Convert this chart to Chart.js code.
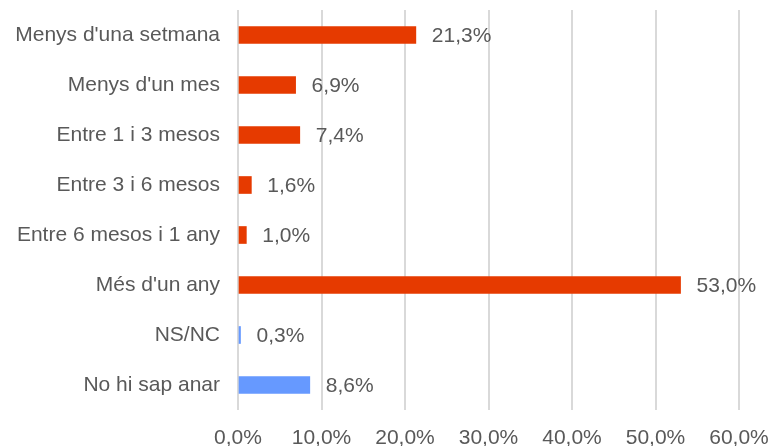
<!DOCTYPE html>
<html>
<head>
<meta charset="utf-8">
<script src="https://cdn.jsdelivr.net/npm/chart.js@4/dist/chart.umd.min.js"></script>
<style>
  html, body { margin: 0; padding: 0; background: #fff; }
  #wrap { width: 771px; height: 446px; }
</style>
</head>
<body>
<div id="wrap"><canvas id="myBarChart"></canvas></div>
<script>
// categories, values (percent) and bar colours
var labels = ["Menys d'una setmana", "Menys d'un mes", "Entre 1 i 3 mesos", "Entre 3 i 6 mesos",
              "Entre 6 mesos i 1 any", "Més d'un any", "NS/NC", "No hi sap anar"];
var values = [21.3, 6.9, 7.4, 1.6, 1.0, 53.0, 0.3, 8.6];
var colors = ["#E63A00", "#E63A00", "#E63A00", "#E63A00", "#E63A00", "#E63A00", "#6699FF", "#6699FF"];

var xTicks = [0, 10, 20, 30, 40, 50, 60];

function fmt(v) {
    return v.toFixed(1).replace('.', ',') + '%';
}

// draw value labels to the right of the bars
var valueLabels = {
    id: 'valueLabels',
    afterDatasetsDraw: function (chart) {
        var ctx = chart.ctx;
        var meta = chart.getDatasetMeta(0);
        ctx.save();
        ctx.font = '21px "Liberation Sans", Arial, sans-serif';
        ctx.fillStyle = '#595959';
        ctx.textAlign = 'left';
        ctx.textBaseline = 'middle';
        meta.data.forEach(function (bar, i) {
            ctx.fillText(fmt(values[i]), bar.x + 16, bar.y + 1);
        });
        ctx.restore();
    }
};

function makeChart() {
    var ctx = document.getElementById("myBarChart").getContext("2d");

    var myBarChart = new Chart(ctx, {
        type: 'bar',
        data: {
            labels: labels,
            datasets: [{
                data: values,
                backgroundColor: colors,
                borderWidth: 0,
                barThickness: 17
            }]
        },
        options: {
            indexAxis: 'y',
            responsive: true,
            maintainAspectRatio: false,
            animation: false,
            layout: { padding: { top: 10, right: 32, left: 0, bottom: 0 } },
            plugins: {
                legend: { display: false },
                tooltip: { enabled: false }
            },
            scales: {
                x: {
                    min: 0,
                    max: 60,
                    afterBuildTicks: function (scale) {
                        scale.ticks = xTicks.map(function (v) { return { value: v }; });
                    },
                    afterFit: function (scale) {
                        scale.height = 36;
                        scale.paddingLeft = 0;
                        scale.paddingRight = 0;
                    },
                    grid: { color: '#D9D9D9', lineWidth: 2, drawTicks: false },
                    border: { display: false },
                    ticks: {
                        padding: 16,
                        color: '#595959',
                        font: { family: '"Liberation Sans", Arial, sans-serif', size: 21 },
                        callback: function (v) { return fmt(v); }
                    }
                },
                y: {
                    afterFit: function (scale) {
                        scale.width = 238;
                        scale.paddingTop = 0;
                        scale.paddingBottom = 0;
                    },
                    grid: { display: false, drawTicks: false },
                    border: { display: false },
                    ticks: {
                        padding: 18,
                        color: '#595959',
                        font: { family: '"Liberation Sans", Arial, sans-serif', size: 21 }
                    }
                }
            }
        },
        plugins: [valueLabels]
    });
}

makeChart();
</script>
</body>
</html>
